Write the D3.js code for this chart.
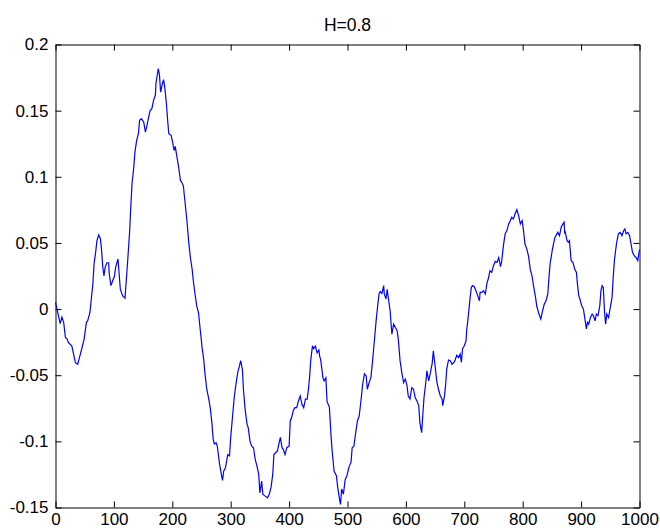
<!DOCTYPE html>
<html>
<head>
<meta charset="utf-8">
<script src="https://cdn.jsdelivr.net/npm/d3@7"></script>
<style>
  html, body { margin: 0; padding: 0; background: #fff; }
  svg { display: block; }
  text { font-family: "Liberation Sans", Arial, Helvetica, sans-serif; fill: #000; }
</style>
</head>
<body>
<svg id="chart" width="660" height="528"></svg>
<script>
// ---- data ----
const titleText = "H=0.8";
const steps = [0,5,8,11,14,17,20,22,28,31,34,38,41,45,49,53,55,59,61,64,66,69,71,74,77,79,81,83,85,88,91,92,95,98,101,103,107,109,111,115,119,122,124,127,129,131,134,136,139,142,144,147,151,154,156,159,162,165,168,171,172,175,176,178,180,183,185,187,190,192,194,198,201,203,205,208,211,214,216,219,222,225,228,231,234,236,239,242,245,248,251,254,256,259,262,265,268,270,272,275,277,281,284,286,288,291,293,295,298,300,303,306,309,312,315,317,320,322,325,328,330,333,336,339,342,345,348,350,353,355,359,363,366,369,372,374,377,380,383,385,388,390,393,396,400,402,405,407,410,413,416,419,422,425,428,431,433,435,437,440,442,445,448,451,452,454,458,460,463,465,468,469,472,474,477,481,483,486,488,490,493,496,499,503,506,508,511,514,517,520,523,526,529,532,534,537,540,543,546,549,552,554,556,559,562,563,566,568,569,571,573,576,579,582,585,587,590,593,596,599,602,604,607,610,613,616,619,622,624,627,629,631,634,636,639,642,645,647,650,653,656,659,662,663,666,668,670,673,676,679,682,684,687,690,693,695,697,700,703,704,706,708,710,712,714,717,720,723,726,727,730,733,736,739,741,744,747,750,753,756,759,762,764,767,770,773,776,779,781,784,787,790,793,796,799,801,804,807,810,813,816,819,822,824,827,831,834,837,840,843,845,847,851,855,857,860,863,866,869,871,872,873,876,878,880,881,883,886,889,892,894,896,898,901,904,907,909,911,913,916,919,921,924,926,929,932,934,936,938,940,942,944,947,950,953,955,957,959,961,964,967,970,973,975,977,980,983,985,988,991,994,997,1000];
const values = [0.005,-0.005,-0.011,-0.006,-0.010,-0.0215,-0.0227,-0.0253,-0.028,-0.034,-0.0405,-0.0417,-0.0367,-0.030,-0.0227,-0.010,-0.0089,-0.0026,0.0063,0.019,0.034,0.044,0.0517,0.056,0.053,0.044,0.0315,0.025,0.0315,0.035,0.035,0.0265,0.0177,0.0214,0.025,0.0315,0.0379,0.0265,0.015,0.010,0.0083,0.0265,0.039,0.059,0.078,0.0947,0.107,0.1186,0.1275,0.1326,0.1427,0.144,0.1414,0.1338,0.1376,0.144,0.150,0.1515,0.158,0.1616,0.1705,0.179,0.1818,0.177,0.164,0.1705,0.1735,0.168,0.155,0.1427,0.1326,0.1313,0.125,0.12,0.123,0.1149,0.107,0.097,0.096,0.093,0.080,0.067,0.051,0.039,0.030,0.0214,0.011,0.002,-0.003,-0.0164,-0.029,-0.039,-0.049,-0.0606,-0.067,-0.0745,-0.087,-0.0985,-0.102,-0.101,-0.1036,-0.1174,-0.125,-0.1295,-0.1225,-0.12,-0.115,-0.11,-0.111,-0.097,-0.082,-0.067,-0.0568,-0.048,-0.043,-0.039,-0.0455,-0.062,-0.077,-0.087,-0.0897,-0.0998,-0.1036,-0.1048,-0.1136,-0.1187,-0.125,-0.139,-0.130,-0.140,-0.1414,-0.1427,-0.140,-0.135,-0.125,-0.110,-0.1086,-0.1073,-0.101,-0.097,-0.1048,-0.106,-0.110,-0.1048,-0.1036,-0.0846,-0.081,-0.077,-0.0745,-0.0745,-0.0695,-0.0657,-0.072,-0.0745,-0.068,-0.068,-0.061,-0.052,-0.039,-0.0278,-0.030,-0.028,-0.033,-0.031,-0.035,-0.038,-0.052,-0.0543,-0.052,-0.070,-0.073,-0.0745,-0.097,-0.1086,-0.1225,-0.126,-0.134,-0.1427,-0.1477,-0.136,-0.140,-0.129,-0.126,-0.1187,-0.116,-0.1048,-0.1036,-0.0935,-0.0846,-0.081,-0.0695,-0.0568,-0.049,-0.0505,-0.0606,-0.0556,-0.052,-0.039,-0.024,-0.0089,0.0038,0.0114,0.0133,0.0118,0.0177,0.0114,0.0076,0.015,0.0114,0.005,-0.0013,-0.019,-0.0114,-0.014,-0.0164,-0.0227,-0.039,-0.048,-0.0556,-0.053,-0.058,-0.0657,-0.068,-0.0594,-0.0606,-0.067,-0.0695,-0.073,-0.086,-0.0935,-0.0795,-0.067,-0.0556,-0.0467,-0.0543,-0.048,-0.041,-0.0316,-0.043,-0.055,-0.061,-0.0657,-0.068,-0.073,-0.066,-0.0574,-0.045,-0.0385,-0.039,-0.0417,-0.0404,-0.039,-0.035,-0.0367,-0.034,-0.0404,-0.030,-0.0278,-0.024,-0.0164,-0.0089,0.000,0.0088,0.0164,0.0177,0.0169,0.0139,0.010,0.0063,0.0126,0.0126,0.0139,0.0114,0.020,0.0227,0.029,0.0277,0.0328,0.036,0.0353,0.039,0.032,0.036,0.048,0.057,0.0593,0.0644,0.0669,0.0694,0.0682,0.072,0.0752,0.0707,0.0644,0.0669,0.0606,0.049,0.0455,0.040,0.030,0.025,0.0164,0.0088,0.0025,-0.0026,-0.0076,-0.0013,0.0038,0.0063,0.0114,0.024,0.0345,0.0455,0.054,0.0555,0.058,0.0555,0.062,0.0644,0.0656,0.057,0.058,0.0517,0.0505,0.0517,0.0467,0.0366,0.0353,0.0303,0.0277,0.0177,0.010,0.0076,0.0025,0.000,-0.0089,-0.015,-0.010,-0.0114,-0.0064,-0.0038,-0.005,-0.0089,-0.0038,-0.005,0.0025,0.0139,0.0177,0.0164,-0.0013,-0.0114,-0.0038,-0.0064,0.0012,0.0088,0.024,0.0366,0.044,0.0505,0.057,0.058,0.0555,0.0593,0.0606,0.057,0.058,0.0555,0.0505,0.0429,0.0404,0.039,0.0366,0.045];
const xTicks = [0,100,200,300,400,500,600,700,800,900,1000];
const yTicks = [-0.15,-0.1,-0.05,0,0.05,0.1,0.15,0.2];
const yTickLabels = ["-0.15","-0.1","-0.05","0","0.05","0.1","0.15","0.2"];

// ---- layout ----
const plotLeft = 55.5, plotRight = 639.5, plotTop = 44.5, plotBottom = 507.5;
const svg = d3.select("#chart");

const x = d3.scaleLinear().domain([0, 1000]).range([plotLeft, plotRight]);
const y = d3.scaleLinear().domain([-0.15, 0.2]).range([plotBottom, plotTop]);

const points = steps.map((s, i) => [s, values[i]]);

function styleAxis(g) {
  g.selectAll("path.domain").attr("stroke", "#000").attr("stroke-width", 1);
  g.selectAll(".tick line").attr("stroke", "#000").attr("stroke-width", 1);
  g.selectAll(".tick text").style("font-size", "17px").attr("fill", "#000");
}

// bottom axis with labels
svg.append("g")
  .attr("transform", `translate(0,${plotBottom})`)
  .call(d3.axisBottom(x).tickValues(xTicks).tickFormat(d3.format("d"))
        .tickSizeInner(-6).tickSizeOuter(0).tickPadding(5))
  .call(styleAxis);

// top axis (no labels)
svg.append("g")
  .attr("transform", `translate(0,${plotTop})`)
  .call(d3.axisTop(x).tickValues(xTicks).tickFormat("")
        .tickSizeInner(-6).tickSizeOuter(0))
  .call(styleAxis);

// left axis with labels
svg.append("g")
  .attr("transform", `translate(${plotLeft},0)`)
  .call(d3.axisLeft(y).tickValues(yTicks).tickFormat((d, i) => yTickLabels[i])
        .tickSizeInner(-6).tickSizeOuter(0).tickPadding(7))
  .call(styleAxis);

// right axis (no labels)
svg.append("g")
  .attr("transform", `translate(${plotRight},0)`)
  .call(d3.axisRight(y).tickValues(yTicks).tickFormat("")
        .tickSizeInner(-6).tickSizeOuter(0))
  .call(styleAxis);

// series line
svg.append("path")
  .datum(points)
  .attr("fill", "none")
  .attr("stroke", "#0000ff")
  .attr("stroke-width", 1.2)
  .attr("stroke-linejoin", "miter")
  .attr("d", d3.line().x(d => x(d[0])).y(d => y(d[1])));

// title
svg.append("text")
  .attr("x", (plotLeft + plotRight) / 2)
  .attr("y", 30.5)
  .attr("text-anchor", "middle")
  .style("font-size", "17.5px")
  .text(titleText);
</script>
</body>
</html>
